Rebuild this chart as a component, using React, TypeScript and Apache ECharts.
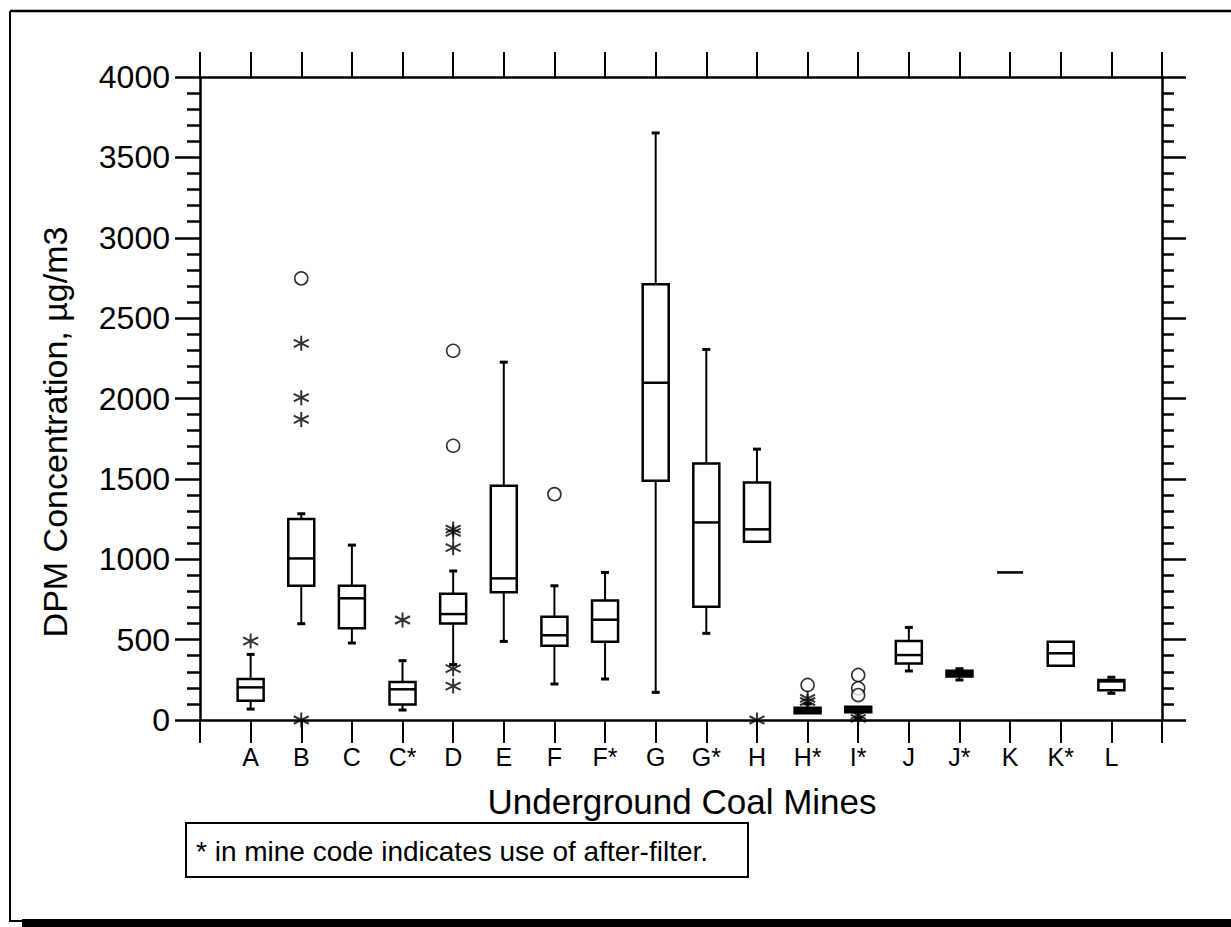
import React, { useEffect, useRef } from "react";
import * as echarts from "echarts";

const mines = ["A", "B", "C", "C*", "D", "E", "F", "F*", "G", "G*", "H", "H*", "I*", "J", "J*", "K", "K*", "L"];
const categories = ["", ...mines, ""];

const whiskerLow = [68, 599, 479, 62, 345, 489, 224, 255, 172, 539, 1109, 42, 10, 305, 249, 918, 338, 166];
const q1 = [120, 835, 570, 97, 601, 794, 462, 487, 1488, 705, 1109, 42, 48, 352, 271, 918, 338, 185];
const median = [203, 1005, 757, 191, 659, 881, 527, 624, 2098, 1229, 1186, 59, 66, 404, 290, 918, 415, 240];
const q3 = [255, 1250, 835, 236, 786, 1457, 643, 744, 2711, 1596, 1478, 76, 83, 491, 307, 918, 487, 249];
const whiskerHigh = [408, 1283, 1088, 369, 927, 2226, 835, 918, 3652, 2305, 1685, 100, 83, 576, 319, 918, 487, 266];

const circleMine = ["B", "D", "D", "F", "H*", "I*", "I*", "I*"];
const circleValue = [2747, 2297, 1706, 1405, 218, 280, 197, 155];

const starMine = ["A", "B", "B", "B", "B", "C*", "D", "D", "D", "D", "D", "H", "H*", "H*", "I*", "I*"];
const starValue = [491, 2343, 2005, 1870, 0, 622, 1188, 1167, 1072, 319, 211, 0, 135, 115, 30, 10];

const yTicks = [0, 500, 1000, 1500, 2000, 2500, 3000, 3500, 4000];

const FONT = "'Liberation Sans', Arial, Helvetica, sans-serif";

export default function App() {
  const ref = useRef<HTMLDivElement>(null);

  useEffect(() => {
    if (!ref.current) return;
    const chart = echarts.init(ref.current, undefined, { renderer: "svg" });

    const boxData = mines.map((m, i) => [
      categories.indexOf(m),
      whiskerLow[i],
      q1[i],
      median[i],
      q3[i],
      whiskerHigh[i],
    ]);
    const circleData = circleMine.map((m, i) => [categories.indexOf(m), circleValue[i]]);
    const starData = starMine.map((m, i) => [categories.indexOf(m), starValue[i]]);

    const renderBox = (params: any, api: any) => {
      const x = api.value(0);
      const lo = api.value(1);
      const a = api.value(2);
      const md = api.value(3);
      const b = api.value(4);
      const hi = api.value(5);
      const pLo = api.coord([x, lo]);
      const pA = api.coord([x, a]);
      const pM = api.coord([x, md]);
      const pB = api.coord([x, b]);
      const pHi = api.coord([x, hi]);
      const cx = pM[0];
      const half = 13;
      const capHalf = 4;
      const children: any[] = [];
      const lineStyle = { stroke: "#000", lineWidth: 2 };
      if (hi > b) {
        children.push({ type: "line", shape: { x1: cx, y1: pB[1], x2: cx, y2: pHi[1] }, style: lineStyle });
        children.push({ type: "line", shape: { x1: cx - capHalf, y1: pHi[1], x2: cx + capHalf, y2: pHi[1] }, style: { stroke: "#000", lineWidth: 3 } });
      }
      if (lo < a) {
        children.push({ type: "line", shape: { x1: cx, y1: pA[1], x2: cx, y2: pLo[1] }, style: lineStyle });
        children.push({ type: "line", shape: { x1: cx - capHalf, y1: pLo[1], x2: cx + capHalf, y2: pLo[1] }, style: { stroke: "#000", lineWidth: 3 } });
      }
      const h = pA[1] - pB[1];
      if (h > 0.5) {
        children.push({
          type: "rect",
          shape: { x: cx - half, y: pB[1], width: 2 * half, height: h },
          style: { stroke: "#000", lineWidth: 2.5, fill: h < 7 ? "#000" : "#fff" },
        });
      }
      children.push({
        type: "line",
        shape: { x1: cx - half, y1: pM[1], x2: cx + half, y2: pM[1] },
        style: { stroke: "#000", lineWidth: 2.5 },
      });
      return { type: "group", children };
    };

    const option: any = {
      animation: false,
      backgroundColor: "#fff",
      grid: { left: 200, right: 69, top: 77, bottom: 207, containLabel: false },
      xAxis: [
        {
          type: "category",
          position: "bottom",
          data: categories,
          boundaryGap: false,
          axisLine: { show: true, onZero: false, lineStyle: { color: "#000", width: 2.5 } },
          axisTick: { show: true, length: 23, interval: 0, lineStyle: { color: "#000", width: 2 } },
          axisLabel: { show: true, interval: 0, margin: 24, color: "#000", fontSize: 25, fontFamily: FONT },
          splitLine: { show: false },
        },
        {
          type: "value",
          position: "top",
          min: 0,
          max: categories.length - 1,
          interval: 1,
          axisLine: { show: true, onZero: false, lineStyle: { color: "#000", width: 2.5 } },
          axisTick: { show: true, length: 25, lineStyle: { color: "#000", width: 2 } },
          axisLabel: { show: false },
          splitLine: { show: false },
        },
      ],
      yAxis: [
        {
          type: "value",
          position: "left",
          min: yTicks[0],
          max: yTicks[yTicks.length - 1],
          interval: 500,
          axisLine: { show: true, onZero: false, lineStyle: { color: "#000", width: 2.5 } },
          axisTick: { show: true, length: 25, lineStyle: { color: "#000", width: 2.5 } },
          minorTick: { show: true, splitNumber: 5, length: 13, lineStyle: { color: "#000", width: 2.5 } },
          axisLabel: {
            show: true,
            margin: 30,
            color: "#000",
            fontSize: 32,
            fontFamily: FONT,
            formatter: (v: number) => String(v),
          },
          splitLine: { show: false },
          minorSplitLine: { show: false },
        },
        {
          type: "value",
          position: "right",
          min: yTicks[0],
          max: yTicks[yTicks.length - 1],
          interval: 500,
          axisLine: { show: true, onZero: false, lineStyle: { color: "#000", width: 2.5 } },
          axisTick: { show: true, length: 24, lineStyle: { color: "#000", width: 2.5 } },
          minorTick: { show: true, splitNumber: 5, length: 12, lineStyle: { color: "#000", width: 2.5 } },
          axisLabel: { show: false },
          splitLine: { show: false },
          minorSplitLine: { show: false },
        },
      ],
      series: [
        {
          type: "custom",
          name: "boxes",
          xAxisIndex: 0,
          yAxisIndex: 0,
          renderItem: renderBox,
          encode: { x: 0, y: [1, 2, 3, 4, 5] },
          data: boxData,
          z: 2,
        },
        {
          type: "scatter",
          name: "circles",
          xAxisIndex: 0,
          yAxisIndex: 0,
          symbol: "circle",
          symbolSize: 13,
          itemStyle: { color: "#fff", borderColor: "#000", borderWidth: 1.6 },
          data: circleData,
          z: 3,
        },
        {
          type: "scatter",
          name: "stars",
          xAxisIndex: 0,
          yAxisIndex: 0,
          symbol: "path://M5,0L5,10M0.7,2.5L9.3,7.5M0.7,7.5L9.3,2.5",
          symbolSize: 15,
          itemStyle: { color: "none", borderColor: "#000", borderWidth: 2 },
          data: starData,
          z: 4,
        },
      ],
      graphic: [
        { type: "line", shape: { x1: 10, y1: 11, x2: 1231, y2: 11 }, style: { stroke: "#000", lineWidth: 2.5 } },
        { type: "line", shape: { x1: 10, y1: 11, x2: 10, y2: 922 }, style: { stroke: "#000", lineWidth: 2 } },
        { type: "line", shape: { x1: 10, y1: 921, x2: 24, y2: 921 }, style: { stroke: "#000", lineWidth: 2 } },
        { type: "rect", shape: { x: 22, y: 919, width: 1209, height: 8 }, style: { fill: "#000" } },
        {
          type: "text",
          x: 55,
          y: 432,
          rotation: Math.PI / 2,
          style: {
            text: "DPM Concentration, µg/m3",
            fill: "#000",
            font: `34px ${FONT}`,
            align: "center",
            verticalAlign: "middle",
          },
        },
        {
          type: "text",
          x: 682,
          y: 801,
          style: {
            text: "Underground Coal Mines",
            fill: "#000",
            font: `35px ${FONT}`,
            align: "center",
            verticalAlign: "middle",
          },
        },
        {
          type: "rect",
          shape: { x: 186, y: 823, width: 562, height: 54 },
          style: { fill: "#fff", stroke: "#000", lineWidth: 2 },
        },
        {
          type: "text",
          x: 196,
          y: 851,
          style: {
            text: "* in mine code indicates use of after-filter.",
            fill: "#000",
            font: `28px ${FONT}`,
            align: "left",
            verticalAlign: "middle",
          },
        },
      ],
    };

    chart.setOption(option);
    return () => chart.dispose();
  }, []);

  return (
    <div
      ref={ref}
      style={{ position: "fixed", left: 0, top: 0, width: 1231, height: 927, background: "#fff" }}
    />
  );
}
